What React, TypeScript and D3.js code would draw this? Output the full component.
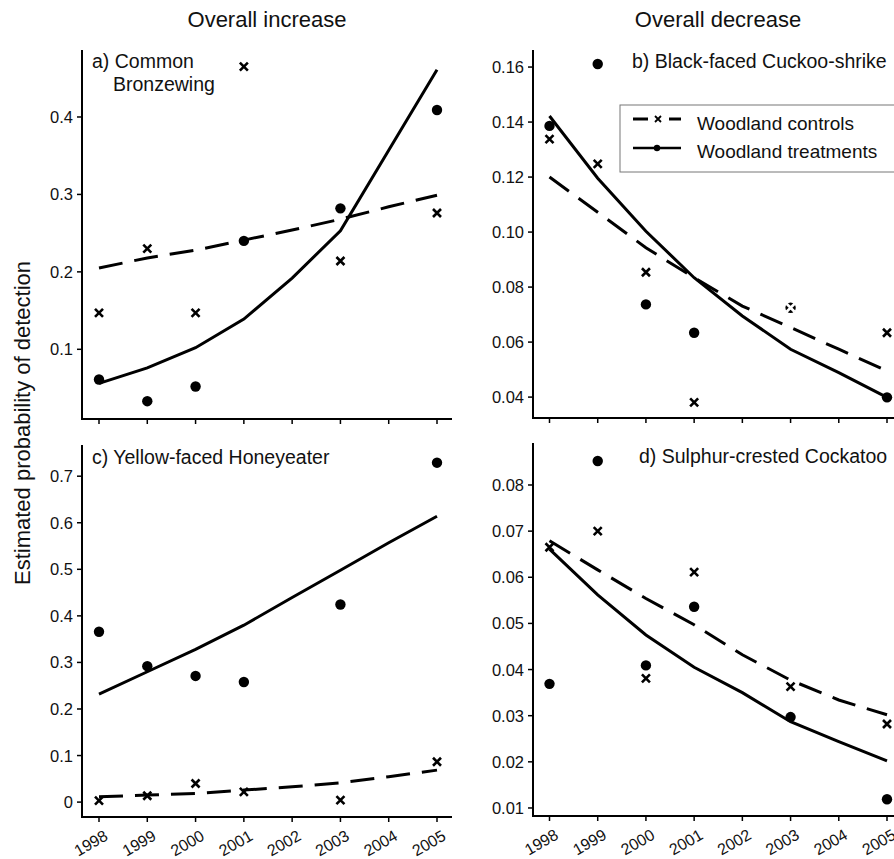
import React from "react";
import * as d3 from "d3";

// Years on the axis and years with survey observations
const years = [1998, 1999, 2000, 2001, 2002, 2003, 2004, 2005];
const surveyYears = [1998, 1999, 2000, 2001, 2003, 2005];

// a) Common Bronzewing
const aControlObs = [0.147, 0.23, 0.147, 0.465, 0.214, 0.276];
const aTreatObs = [0.061, 0.033, 0.052, 0.24, 0.282, 0.409];
const aControlFit = [0.205, 0.218, 0.228, 0.241, 0.254, 0.268, 0.284, 0.299];
const aTreatFit = [0.056, 0.076, 0.102, 0.139, 0.192, 0.253, 0.357, 0.461];

// b) Black-faced Cuckoo-shrike
const bControlObs = [0.1338, 0.1248, 0.0854, 0.0381, 0.0725, 0.0634];
const bTreatObs = [0.1386, 0.1611, 0.0737, 0.0634, 0.0725, 0.0399];
const bControlFit = [0.12, 0.1072, 0.0943, 0.0834, 0.0731, 0.0653, 0.0574, 0.0495];
const bTreatFit = [0.1422, 0.1196, 0.1003, 0.0834, 0.0695, 0.0574, 0.0489, 0.0399];

// c) Yellow-faced Honeyeater
const cControlObs = [0.003, 0.0136, 0.04, 0.022, 0.0043, 0.0866];
const cTreatObs = [0.366, 0.292, 0.271, 0.258, 0.4245, 0.729];
const cControlFit = [0.0114, 0.015, 0.0186, 0.0258, 0.0329, 0.0415, 0.0544, 0.0687];
const cTreatFit = [0.232, 0.28, 0.328, 0.38, 0.4395, 0.498, 0.557, 0.614];

// d) Sulphur-crested Cockatoo
const dControlObs = [0.0665, 0.07, 0.0381, 0.0611, 0.0363, 0.0282];
const dTreatObs = [0.0369, 0.0852, 0.0409, 0.0536, 0.0297, 0.0119];
const dControlFit = [0.0679, 0.0616, 0.0554, 0.0497, 0.0432, 0.0377, 0.0334, 0.0302];
const dTreatFit = [0.0661, 0.0562, 0.0475, 0.0405, 0.035, 0.0287, 0.0244, 0.0202];

// Tick values per panel
const aTicks = [0.1, 0.2, 0.3, 0.4];
const bTicks = [0.04, 0.06, 0.08, 0.1, 0.12, 0.14, 0.16];
const cTicks = [0, 0.1, 0.2, 0.3, 0.4, 0.5, 0.6, 0.7];
const dTicks = [0.01, 0.02, 0.03, 0.04, 0.05, 0.06, 0.07, 0.08];

const columnTitles = ["Overall increase", "Overall decrease"];
const legendLabels = ["Woodland controls", "Woodland treatments"];
const yAxisTitle = "Estimated probability of detection";

const FONT = "'Liberation Sans', Arial, Helvetica, sans-serif";
const DASH = "24,12";

type PanelProps = {
  label: string[];
  labelX: number;
  labelY: number;
  axisLeft: number;
  axisRight: number;
  top: number;
  bottom: number;
  xFirst: number;
  xLast: number;
  yDomain: [number, number];
  ticks: number[];
  fmt: (v: number) => string;
  controlObs: number[];
  treatObs: number[];
  controlFit: number[];
  treatFit: number[];
  showYearLabels: boolean;
};

function Cross({ x, y, color }: { x: number; y: number; color: string }) {
  const s = 4;
  return (
    <path
      d={`M${x - s},${y - s}L${x + s},${y + s}M${x - s},${y + s}L${x + s},${y - s}`}
      stroke={color}
      strokeWidth={2.6}
      fill="none"
    />
  );
}

function Panel(p: PanelProps) {
  const x = d3.scaleLinear().domain([1998, 2005]).range([p.xFirst, p.xLast]);
  const y = d3.scaleLinear().domain(p.yDomain).range([p.bottom, p.top]);
  const line = d3
    .line<number>()
    .x((_, i) => x(years[i]))
    .y((v) => y(v));

  return (
    <g>
      {/* axes */}
      <line x1={p.axisLeft} x2={p.axisLeft} y1={p.top} y2={p.bottom} stroke="#000" strokeWidth={2} />
      <line x1={p.axisLeft - 1} x2={p.axisRight} y1={p.bottom} y2={p.bottom} stroke="#000" strokeWidth={2} />
      {p.ticks.map((t) => (
        <g key={`yt${t}`}>
          <line x1={p.axisLeft - 5} x2={p.axisLeft} y1={y(t)} y2={y(t)} stroke="#000" strokeWidth={1.5} />
          <text
            x={p.axisLeft - 9}
            y={y(t)}
            textAnchor="end"
            dominantBaseline="central"
            fontSize={16.5}
            fontFamily={FONT}
            fill="#111"
          >
            {p.fmt(t)}
          </text>
        </g>
      ))}
      {years.map((yr) => (
        <g key={`xt${yr}`}>
          <line x1={x(yr)} x2={x(yr)} y1={p.bottom} y2={p.bottom + 5} stroke="#000" strokeWidth={1.5} />
          {p.showYearLabels && (
            <text
              transform={`translate(${x(yr) + 10},${p.bottom + 22}) rotate(-30)`}
              textAnchor="end"
              fontSize={16}
              fontFamily={FONT}
              fill="#111"
            >
              {yr}
            </text>
          )}
        </g>
      ))}

      {/* fitted trends */}
      <path d={line(p.controlFit) || ""} fill="none" stroke="#000" strokeWidth={3} strokeDasharray={DASH} />
      <path d={line(p.treatFit) || ""} fill="none" stroke="#000" strokeWidth={3} />

      {/* observed values */}
      {p.treatObs.map((v, i) => (
        <circle key={`d${i}`} cx={x(surveyYears[i])} cy={y(v)} r={5.2} fill="#000" />
      ))}
      {p.controlObs.map((v, i) => {
        const overlaps = Math.abs(y(v) - y(p.treatObs[i])) < 2;
        return (
          <Cross key={`c${i}`} x={x(surveyYears[i])} y={y(v)} color={overlaps ? "#fff" : "#000"} />
        );
      })}

      {/* panel label */}
      <text x={p.labelX} y={p.labelY} fontSize={19.5} fontFamily={FONT} fill="#111">
        {p.label.map((s, i) => (
          <tspan key={i} x={i === 0 ? p.labelX : p.labelX + 21} dy={i === 0 ? 0 : 23}>
            {s}
          </tspan>
        ))}
      </text>
    </g>
  );
}

export default function App() {
  const fmt1 = (v: number) => (v === 0 ? "0" : d3.format(".1f")(v));
  const fmt2 = d3.format(".2f");
  const legendX = 633;
  return (
    <svg
      width={894}
      height={859}
      style={{ position: "absolute", left: 0, top: 0, background: "#fff" }}
    >
      <rect width={894} height={859} fill="#fff" />
      <text x={267} y={27} textAnchor="middle" fontSize={22} fontFamily={FONT} fill="#111">
        {columnTitles[0]}
      </text>
      <text x={718} y={27} textAnchor="middle" fontSize={22} fontFamily={FONT} fill="#111">
        {columnTitles[1]}
      </text>
      <text
        transform="translate(30,423) rotate(-90)"
        textAnchor="middle"
        fontSize={22}
        fontFamily={FONT}
        fill="#111"
      >
        {yAxisTitle}
      </text>

      <Panel
        label={["a) Common", "Bronzewing"]}
        labelX={92}
        labelY={68}
        axisLeft={82}
        axisRight={452}
        top={50}
        bottom={419}
        xFirst={99}
        xLast={437}
        yDomain={[0.01, 0.4865]}
        ticks={aTicks}
        fmt={fmt1}
        controlObs={aControlObs}
        treatObs={aTreatObs}
        controlFit={aControlFit}
        treatFit={aTreatFit}
        showYearLabels={false}
      />
      <Panel
        label={["b) Black-faced Cuckoo-shrike"]}
        labelX={632}
        labelY={68}
        axisLeft={533}
        axisRight={903}
        top={50}
        bottom={418}
        xFirst={549.5}
        xLast={887}
        yDomain={[0.0324, 0.1662]}
        ticks={bTicks}
        fmt={fmt2}
        controlObs={bControlObs}
        treatObs={bTreatObs}
        controlFit={bControlFit}
        treatFit={bTreatFit}
        showYearLabels={false}
      />
      <Panel
        label={["c) Yellow-faced Honeyeater"]}
        labelX={92}
        labelY={464}
        axisLeft={82}
        axisRight={452}
        top={445}
        bottom={817}
        xFirst={99}
        xLast={437}
        yDomain={[-0.032, 0.767]}
        ticks={cTicks}
        fmt={fmt1}
        controlObs={cControlObs}
        treatObs={cTreatObs}
        controlFit={cControlFit}
        treatFit={cTreatFit}
        showYearLabels={true}
      />
      <Panel
        label={["d) Sulphur-crested Cockatoo"]}
        labelX={639}
        labelY={463}
        axisLeft={533}
        axisRight={903}
        top={443}
        bottom={816}
        xFirst={549.5}
        xLast={887}
        yDomain={[0.00826, 0.0891]}
        ticks={dTicks}
        fmt={fmt2}
        controlObs={dControlObs}
        treatObs={dTreatObs}
        controlFit={dControlFit}
        treatFit={dTreatFit}
        showYearLabels={true}
      />

      {/* legend */}
      <g>
        <rect x={620} y={105} width={300} height={67} fill="#fff" stroke="#777" strokeWidth={1} />
        <line x1={legendX} x2={legendX + 15} y1={119} y2={119} stroke="#000" strokeWidth={3} />
        <line x1={legendX + 36} x2={legendX + 48} y1={119} y2={119} stroke="#000" strokeWidth={3} />
        <path d={`M${legendX + 22},116L${legendX + 28},122M${legendX + 22},122L${legendX + 28},116`} stroke="#000" strokeWidth={1.8} />
        <line x1={legendX} x2={legendX + 48} y1={148} y2={148} stroke="#000" strokeWidth={2.5} />
        <circle cx={legendX + 24} cy={148} r={3.2} fill="#000" />
        <text x={697} y={130} fontSize={19} fontFamily={FONT} fill="#111">
          {legendLabels[0]}
        </text>
        <text x={697} y={158} fontSize={19} fontFamily={FONT} fill="#111">
          {legendLabels[1]}
        </text>
      </g>
    </svg>
  );
}
